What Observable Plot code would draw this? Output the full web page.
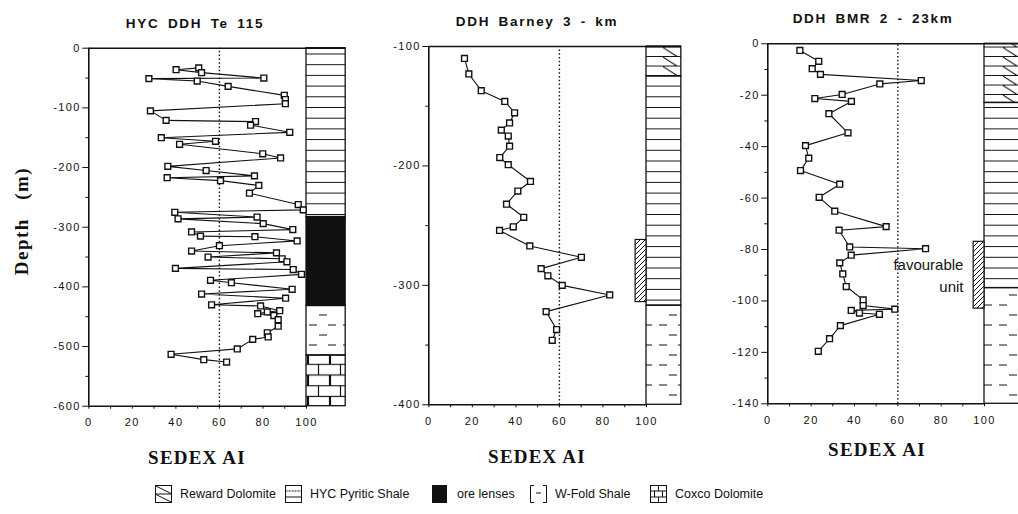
<!DOCTYPE html>
<html>
<head>
<meta charset="utf-8">
<script src="https://cdn.jsdelivr.net/npm/d3@7"></script>
<script src="https://cdn.jsdelivr.net/npm/@observablehq/plot@0.6"></script>
<style>
  html, body { margin: 0; padding: 0; background: #fff; }
  body { width: 1018px; height: 514px; overflow: hidden; font-family: "Liberation Sans", Arial, sans-serif; color: #111; }
  #root { position: relative; width: 1018px; height: 514px; }
  .panel { position: absolute; top: 0; }
  .title { position: absolute; font: bold 13.5px "Liberation Sans", Arial, sans-serif; letter-spacing: 1.7px; word-spacing: 3px; transform: translate(-50%, -50%); white-space: nowrap; }
  .xlab { position: absolute; font: bold 19px "Liberation Serif", "Times New Roman", serif; letter-spacing: 1.2px; transform: translate(-50%, -50%); white-space: nowrap; }
  .ylab { position: absolute; font: bold 19px "Liberation Serif", "Times New Roman", serif; letter-spacing: 1.5px; word-spacing: 12px; transform: translate(-50%, -50%) rotate(-90deg); white-space: nowrap; }
  .litem { position: absolute; top: 485px; display: flex; align-items: center; font: 12.5px "Liberation Sans", Arial, sans-serif; white-space: nowrap; }
  .note text { letter-spacing: 0px; }
</style>
</head>
<body>
<svg width="0" height="0" style="position:absolute">
  <defs>
    <pattern id="p-hyc" patternUnits="userSpaceOnUse" width="40" height="10.7">
      <line x1="0" y1="0.5" x2="40" y2="0.5" stroke="#111" stroke-width="1"/>
    </pattern>
    <pattern id="p-reward" patternUnits="userSpaceOnUse" width="34" height="9.5">
      <line x1="0" y1="9" x2="34" y2="9" stroke="#111" stroke-width="1"/>
      <line x1="7" y1="0" x2="21" y2="9" stroke="#111" stroke-width="1"/>
    </pattern>
    <pattern id="p-wfold" patternUnits="userSpaceOnUse" width="34" height="20">
      <line x1="3" y1="5" x2="11" y2="5" stroke="#111" stroke-width="1"/>
      <line x1="22" y1="5" x2="30" y2="5" stroke="#111" stroke-width="1"/>
      <line x1="13" y1="15" x2="21" y2="15" stroke="#111" stroke-width="1"/>
    </pattern>
    <pattern id="p-coxco" patternUnits="userSpaceOnUse" width="22" height="21.4">
      <line x1="0" y1="0.5" x2="22" y2="0.5" stroke="#111" stroke-width="1.2"/>
      <line x1="0" y1="11.2" x2="22" y2="11.2" stroke="#111" stroke-width="1.2"/>
      <line x1="10.5" y1="0.5" x2="10.5" y2="11.2" stroke="#111" stroke-width="1.2"/>
      <line x1="21.5" y1="11.2" x2="21.5" y2="21.9" stroke="#111" stroke-width="1.2"/>
      <line x1="0.5" y1="11.2" x2="0.5" y2="21.9" stroke="#111" stroke-width="1.2"/>
    </pattern>
    <pattern id="p-hatch" patternUnits="userSpaceOnUse" width="5" height="5">
      <path d="M-1,1 l2,-2 M0,5 l5,-5 M4,6 l2,-2" stroke="#111" stroke-width="1"/>
    </pattern>
  </defs>
</svg>
<div id="root"></div>
<script>
// ---------------- DATA ----------------
// Panel 1: HYC DDH Te 115
const hycAI    = [50.5, 40.1, 51.8, 80.4, 27.6, 49.8, 64.0, 89.8, 90.3, 90.3, 28.3, 35.5, 76.6, 74.3, 92.3, 33.3, 58.2, 41.7, 79.9, 88.1, 36.3, 53.9, 76.1, 36.0, 60.5, 78.1, 73.8, 96.2, 98.5, 39.5, 77.3, 41.0, 80.1, 93.7, 47.2, 51.3, 76.3, 95.7, 60.0, 47.2, 86.2, 54.8, 88.8, 91.0, 39.8, 93.9, 97.7, 55.9, 65.5, 93.4, 51.8, 90.4, 56.4, 78.9, 87.7, 82.0, 77.6, 85.0, 87.0, 87.0, 82.0, 82.4, 75.3, 68.2, 37.8, 52.8, 63.3];
const hycDepth = [-33, -36, -41, -50, -51, -55, -64, -79, -86, -93, -105, -121, -123, -129, -141, -150, -156, -161, -177, -184, -198, -205, -214, -217, -222, -230, -243, -262, -271, -275, -283, -286, -294, -304, -308, -315, -316, -323, -331, -340, -343, -350, -353, -358, -369, -371, -379, -389, -393, -404, -412, -419, -430, -432, -440, -442, -445, -448, -455, -466, -477, -484, -488, -504, -513, -522, -526];

// Panel 2: DDH Barney 3 - km
const barneyAI    = [16.4, 18.4, 24.1, 34.9, 39.4, 37.1, 33.3, 36.5, 37.1, 32.6, 36.5, 46.7, 40.9, 35.7, 43.6, 38.8, 32.5, 46.4, 70.1, 51.6, 54.7, 61.3, 83.1, 53.9, 58.7, 56.7];
const barneyDepth = [-110, -123, -137, -146, -155.5, -164, -170, -175, -183.5, -193, -199, -213, -221, -232, -243, -251, -254, -267, -276.5, -286, -292, -300, -308, -322, -337, -346];

// Panel 3: DDH BMR 2 - 23km
const bmrAI    = [14.8, 23.5, 20.5, 24.3, 70.8, 51.7, 34.3, 21.7, 38.6, 28.2, 37.0, 17.4, 18.9, 15.1, 33.2, 23.7, 30.9, 54.6, 32.9, 37.8, 72.8, 38.5, 33.2, 34.6, 36.2, 44.0, 44.0, 58.6, 38.5, 42.3, 51.5, 33.5, 28.5, 23.3];
const bmrDepth = [-2.6, -6.8, -9.7, -11.9, -14.3, -15.6, -19.7, -21.3, -22.4, -27.2, -34.6, -39.6, -44.5, -49.3, -54.6, -59.7, -65.1, -71.1, -72.5, -79, -79.7, -82.2, -85.2, -89.5, -94.4, -99.6, -101.8, -103.2, -103.7, -104.7, -105.2, -109.6, -114.7, -119.6];

// Lithology columns (unit, top depth, base depth)
const hycLithoUnit  = ["hyc", "ore", "wfold", "coxco"];
const hycLithoTop   = [0, -283, -432, -515];
const hycLithoBase  = [-283, -432, -515, -600];

const barneyLithoUnit = ["reward", "hyc", "wfold"];
const barneyLithoTop  = [-100, -125, -317];
const barneyLithoBase = [-125, -317, -400];

const bmrLithoUnit = ["reward", "hyc", "wfold"];
const bmrLithoTop  = [0, -23, -95];
const bmrLithoBase = [-23, -95, -140];

// favourable unit intervals
const barneyFavTop = [-262], barneyFavBase = [-314];
const bmrFavTop = [-77], bmrFavBase = [-103];

// Tick values
const xTicks = [0, 20, 40, 60, 80, 100];
const xMinorTicks = [10, 30, 50, 70, 90];
const hycYTicks = [0, -100, -200, -300, -400, -500, -600];
const hycYMinor = [-50, -150, -250, -350, -450, -550];
const barneyYTicks = [-100, -200, -300, -400];
const barneyYMinor = [-150, -250, -350];
const bmrYTicks = [0, -20, -40, -60, -80, -100, -120, -140];
const bmrYMinor = [-10, -30, -50, -70, -90, -110, -130];

const threshold = [60];

const titles = ["HYC DDH Te 115", "DDH Barney 3 - km", "DDH BMR 2 - 23km"];
const legendLabels = ["Reward Dolomite", "HYC Pyritic Shale", "ore lenses", "W-Fold Shale", "Coxco Dolomite"];
const legendUnits = ["reward", "hyc", "ore", "wfold", "coxco"];

// ---------------- DRAWING ----------------
const fills = {hyc: "url(#p-hyc)", reward: "url(#p-reward)", ore: "#111", wfold: "url(#p-wfold)", coxco: "url(#p-coxco)"};
const root = document.getElementById("root");

function zip(a, b) { return a.map((v, i) => ({ai: v, depth: b[i]})); }
function units(u, t, b) { return u.map((v, i) => ({unit: v, top: t[i], base: b[i]})); }

function panel(cfg) {
  const ppu = (cfg.x100 - cfg.x0) / 100;
  const xr0 = cfg.x0 - cfg.left;
  const xr1 = xr0 + cfg.colEnd * ppu;
  const H = 440;
  const pts = zip(cfg.ai, cfg.depth);
  const litho = units(cfg.lu, cfg.lt, cfg.lb);
  const marks = [];
  for (const u of litho) {
    marks.push(Plot.rect([u], {x1: () => 100, x2: () => cfg.colEnd, y1: "top", y2: "base", fill: fills[u.unit], stroke: "#111", strokeWidth: 1.3}));
  }
  if (cfg.favTop) {
    const fav = cfg.favTop.map((t, i) => ({top: t, base: cfg.favBase[i]}));
    marks.push(Plot.rect(fav, {x1: () => 95, x2: () => 100, y1: "top", y2: "base", fill: "#fff"}));
    marks.push(Plot.rect(fav, {x1: () => 95, x2: () => 100, y1: "top", y2: "base", fill: "url(#p-hatch)", stroke: "#111", strokeWidth: 1.2}));
  }
  marks.push(
    Plot.ruleX(threshold, {y1: cfg.dBot, y2: cfg.dTop, stroke: "#111", strokeWidth: 1.4, strokeDasharray: "1.5,2.3"}),
    Plot.ruleY([cfg.dTop], {x1: 0, x2: cfg.colEnd, stroke: "#111", strokeWidth: 1.6}),
    Plot.ruleY([cfg.dBot], {x1: 0, x2: 100, stroke: "#111", strokeWidth: 1.6}),
    Plot.ruleX([0], {y1: cfg.dBot, y2: cfg.dTop, stroke: "#111", strokeWidth: 1.6}),
    Plot.axisY(cfg.yTicks, {anchor: "left", tickSize: 6, tickPadding: 2, tickFormat: d => String(d), label: null, stroke: "#111"}),
    Plot.axisY(cfg.yMinor, {anchor: "left", tickSize: 3, tickFormat: () => "", label: null, stroke: "#111"}),
    Plot.axisX(xTicks, {anchor: "bottom", tickSize: 3, tickPadding: 9, label: null, stroke: "#111"}),
    Plot.axisX(xMinorTicks, {anchor: "bottom", tickSize: 3, tickFormat: () => "", label: null, stroke: "#111"}),
    Plot.line(pts, {x: "ai", y: "depth", stroke: "#111", strokeWidth: 1.1}),
    Plot.dot(pts, {x: "ai", y: "depth", symbol: "square", r: 3.3, fill: "#fff", stroke: "#111", strokeWidth: 1.4})
  );
  if (cfg.note) {
    marks.push(Plot.text(cfg.note, {x: "ai", y: "depth", text: "t", textAnchor: "end", fontSize: 15, fill: "#111", className: "note", fontFamily: "Liberation Sans, Arial, sans-serif"}));
  }
  const svg = Plot.plot({
    width: cfg.width,
    height: H,
    marginLeft: xr0,
    marginRight: cfg.width - xr1,
    marginTop: cfg.yTop,
    marginBottom: H - cfg.yBot,
    x: {domain: [0, cfg.colEnd], range: [xr0, xr1]},
    y: {domain: [cfg.dBot, cfg.dTop], range: [cfg.yBot, cfg.yTop]},
    style: {fontFamily: "Liberation Sans, Arial, sans-serif", fontSize: "11px", letterSpacing: "1.4px", color: "#111", background: "transparent", overflow: "visible"},
    marks
  });
  svg.classList.add("panel");
  svg.style.left = cfg.left + "px";
  root.appendChild(svg);
}

panel({left: 0, width: 350, x0: 88.3, x100: 306, colEnd: 118, yTop: 47.7, yBot: 405.7, dTop: 0, dBot: -600,
  ai: hycAI, depth: hycDepth, lu: hycLithoUnit, lt: hycLithoTop, lb: hycLithoBase, yTicks: hycYTicks, yMinor: hycYMinor});
panel({left: 350, width: 335, x0: 428.3, x100: 646, colEnd: 116, yTop: 46, yBot: 404.3, dTop: -100, dBot: -400,
  ai: barneyAI, depth: barneyDepth, lu: barneyLithoUnit, lt: barneyLithoTop, lb: barneyLithoBase, yTicks: barneyYTicks, yMinor: barneyYMinor,
  favTop: barneyFavTop, favBase: barneyFavBase});
panel({left: 690, width: 332, x0: 767.3, x100: 984, colEnd: 116, yTop: 43.3, yBot: 403.3, dTop: 0, dBot: -140,
  ai: bmrAI, depth: bmrDepth, lu: bmrLithoUnit, lt: bmrLithoTop, lb: bmrLithoBase, yTicks: bmrYTicks, yMinor: bmrYMinor,
  favTop: bmrFavTop, favBase: bmrFavBase,
  note: [{t: "favourable", ai: 90.3, depth: -86}, {t: "unit", ai: 90.3, depth: -94.5}]});

// Titles and axis labels
function label(cls, text, x, y) {
  const d = document.createElement("div");
  d.className = cls; d.textContent = text;
  d.style.left = x + "px"; d.style.top = y + "px";
  root.appendChild(d);
}
label("title", titles[0], 195, 23);
label("title", titles[1], 537, 21);
label("title", titles[2], 873, 18);
label("xlab", "SEDEX AI", 197, 458);
label("xlab", "SEDEX AI", 537, 457);
label("xlab", "SEDEX AI", 877, 450);
label("ylab", "Depth (m)", 22, 221);

// Legend
const icons = {
  reward: '<rect x="0.5" y="0.5" width="16" height="17" fill="#fff" stroke="#111"/><line x1="0.5" y1="9" x2="16.5" y2="9" stroke="#111"/><line x1="1" y1="1" x2="16" y2="8.5" stroke="#111"/><line x1="1" y1="9.5" x2="16" y2="17" stroke="#111"/>',
  hyc: '<rect x="0.5" y="0.5" width="16" height="17" fill="#fff" stroke="#111"/><line x1="0.5" y1="6" x2="16.5" y2="6" stroke="#111" stroke-dasharray="2,1"/><line x1="0.5" y1="12" x2="16.5" y2="12" stroke="#111"/>',
  ore: '<rect x="0.5" y="0.5" width="14" height="17" fill="#111" stroke="#111"/>',
  wfold: '<path d="M4,0.5 H0.5 V17.5 H4 M13,0.5 H16.5 V17.5 H13" fill="none" stroke="#111"/><line x1="6" y1="8" x2="11" y2="8" stroke="#111"/>',
  coxco: '<rect x="0.5" y="0.5" width="16" height="17" fill="#fff" stroke="#111"/><line x1="0.5" y1="6" x2="16.5" y2="6" stroke="#111"/><line x1="0.5" y1="12" x2="16.5" y2="12" stroke="#111"/><line x1="8.5" y1="0.5" x2="8.5" y2="6" stroke="#111"/><line x1="4.5" y1="6" x2="4.5" y2="12" stroke="#111"/><line x1="12.5" y1="6" x2="12.5" y2="12" stroke="#111"/><line x1="8.5" y1="12" x2="8.5" y2="17.5" stroke="#111"/>'
};
const legendLeft = [155, 285, 432, 530, 650];
legendUnits.forEach((u, i) => {
  const it = document.createElement("div");
  it.className = "litem";
  it.style.left = legendLeft[i] + "px";
  it.innerHTML = '<svg width="17" height="18" viewBox="0 0 17 18" style="margin-right:8px">' + icons[u] + '</svg><span>' + legendLabels[i] + '</span>';
  root.appendChild(it);
});
</script>
</body>
</html>
